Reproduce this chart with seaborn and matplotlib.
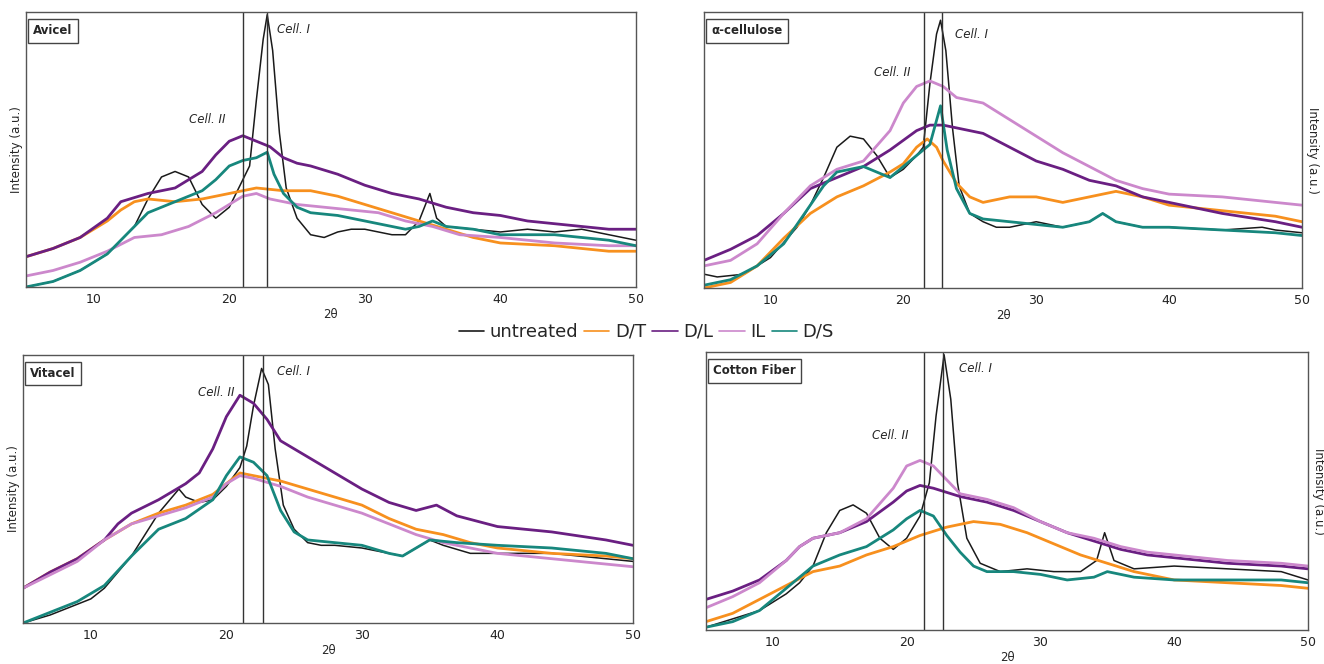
import pandas as pd
import numpy as np
import matplotlib
matplotlib.use('Agg')
import matplotlib.pyplot as plt
import seaborn as sns
from matplotlib.lines import Line2D

# 시료 이름 / 색
samples = ['untreated', 'D/T', 'D/L', 'IL', 'D/S']
colors = ['#1a1a1a', '#f7901e', '#6a1f82', '#cc88cc', '#17877d']

# ---- Avicel ----
avicel_untreated_x = [5, 7, 9, 10, 11, 12, 13, 14, 15, 16, 17, 18, 19, 20, 21, 21.5, 22, 22.5, 22.8, 23.2,
                      23.7, 24.2, 25, 26, 27, 28, 29, 30, 31, 32, 33, 34, 34.8, 35.3, 36, 38, 40, 42, 44, 46, 48, 50]
avicel_untreated_y = [0.00, 0.02, 0.06, 0.09, 0.12, 0.17, 0.22, 0.32, 0.40, 0.42, 0.40, 0.30, 0.25, 0.29, 0.39, 0.44, 0.68, 0.90, 0.99, 0.86,
                      0.56, 0.36, 0.25, 0.19, 0.18, 0.20, 0.21, 0.21, 0.20, 0.19, 0.19, 0.24, 0.34, 0.25, 0.22, 0.21, 0.20, 0.21, 0.20, 0.21, 0.19, 0.17]
avicel_dt_x = [5, 7, 9, 11, 12, 13, 14, 16, 18, 20, 22, 24, 26, 28, 30, 32, 34, 36, 38, 40, 44, 48, 50]
avicel_dt_y = [0.11, 0.14, 0.18, 0.24, 0.28, 0.31, 0.32, 0.31, 0.32, 0.34, 0.36, 0.35, 0.35, 0.33, 0.30, 0.27, 0.24, 0.21, 0.18, 0.16, 0.15, 0.13, 0.13]
avicel_dl_x = [5, 7, 9, 11, 12, 14, 16, 18, 19, 20, 21, 22, 23, 24, 25, 26, 28, 30, 32, 34, 36, 38, 40, 42, 44, 46, 48, 50]
avicel_dl_y = [0.11, 0.14, 0.18, 0.25, 0.31, 0.34, 0.36, 0.42, 0.48, 0.53, 0.55, 0.53, 0.51, 0.47, 0.45, 0.44, 0.41, 0.37, 0.34, 0.32, 0.29, 0.27, 0.26, 0.24, 0.23, 0.22, 0.21, 0.21]
avicel_il_x = [5, 7, 9, 11, 13, 15, 17, 19, 20, 21, 22, 23, 25, 27, 29, 31, 33, 35, 37, 40, 44, 48, 50]
avicel_il_y = [0.04, 0.06, 0.09, 0.13, 0.18, 0.19, 0.22, 0.27, 0.30, 0.33, 0.34, 0.32, 0.30, 0.29, 0.28, 0.27, 0.24, 0.22, 0.19, 0.18, 0.16, 0.15, 0.15]
avicel_ds_x = [5, 7, 9, 11, 12, 13, 14, 15, 16, 17, 18, 19, 20, 21, 22, 22.8, 23.3, 24, 25, 26, 28, 30, 32, 33, 34, 35, 36, 38, 40, 44, 48, 50]
avicel_ds_y = [0.00, 0.02, 0.06, 0.12, 0.17, 0.22, 0.27, 0.29, 0.31, 0.33, 0.35, 0.39, 0.44, 0.46, 0.47, 0.49, 0.41, 0.34, 0.29, 0.27,
               0.26, 0.24, 0.22, 0.21, 0.22, 0.24, 0.22, 0.21, 0.19, 0.19, 0.17, 0.15]

# ---- α-cellulose ----
acell_untreated_x = [5, 6, 8, 10, 12, 13, 14, 15, 16, 17, 18, 19, 20, 21, 21.5, 22, 22.5, 22.8, 23.2, 23.7,
                     24.2, 25, 26, 27, 28, 30, 32, 34, 35, 36, 38, 40, 44, 47, 48, 50]
acell_untreated_y = [0.05, 0.04, 0.05, 0.11, 0.22, 0.30, 0.40, 0.51, 0.55, 0.54, 0.48, 0.40, 0.43, 0.48, 0.51, 0.74, 0.92, 0.97, 0.86, 0.58,
                     0.37, 0.27, 0.24, 0.22, 0.22, 0.24, 0.22, 0.24, 0.27, 0.24, 0.22, 0.22, 0.21, 0.22, 0.21, 0.20]
acell_dt_x = [5, 7, 9, 11, 13, 15, 17, 19, 20, 21, 21.8, 22.5, 23, 24, 25, 26, 28, 30, 32, 34, 36, 38, 40, 44, 48, 50]
acell_dt_y = [0.00, 0.02, 0.08, 0.18, 0.27, 0.33, 0.37, 0.42, 0.45, 0.51, 0.54, 0.51, 0.46, 0.38, 0.33, 0.31, 0.33, 0.33, 0.31, 0.33, 0.35, 0.33, 0.30, 0.28, 0.26, 0.24]
acell_dl_x = [5, 7, 9, 11, 13, 15, 17, 19, 21, 22, 23, 24, 26, 28, 30, 32, 34, 36, 38, 40, 44, 48, 50]
acell_dl_y = [0.10, 0.14, 0.19, 0.27, 0.36, 0.40, 0.44, 0.50, 0.57, 0.59, 0.59, 0.58, 0.56, 0.51, 0.46, 0.43, 0.39, 0.37, 0.33, 0.31, 0.27, 0.24, 0.22]
acell_il_x = [5, 7, 9, 11, 13, 15, 17, 19, 20, 21, 22, 23, 24, 26, 28, 30, 32, 34, 36, 38, 40, 44, 48, 50]
acell_il_y = [0.08, 0.10, 0.16, 0.27, 0.37, 0.43, 0.46, 0.57, 0.67, 0.73, 0.75, 0.73, 0.69, 0.67, 0.61, 0.55, 0.49, 0.44, 0.39, 0.36, 0.34, 0.33, 0.31, 0.30]
acell_ds_x = [5, 7, 9, 11, 13, 14, 15, 16, 17, 18, 19, 20, 21, 22, 22.8, 23.3, 24, 25, 26, 28, 30, 32, 34, 35, 36, 38, 40, 44, 48, 50]
acell_ds_y = [0.01, 0.03, 0.08, 0.16, 0.30, 0.37, 0.42, 0.43, 0.44, 0.42, 0.40, 0.44, 0.48, 0.52, 0.66, 0.50, 0.36, 0.27, 0.25, 0.24,
              0.23, 0.22, 0.24, 0.27, 0.24, 0.22, 0.22, 0.21, 0.20, 0.19]

# ---- Vitacel ----
vita_untreated_x = [5, 7, 9, 10, 11, 12, 13, 14, 15, 16, 16.5, 17, 18, 19, 20, 21, 21.5, 22, 22.6, 23.1,
                    23.6, 24.2, 25, 26, 27, 28, 30, 32, 33, 34, 35, 36, 38, 40, 44, 48, 50]
vita_untreated_y = [0.00, 0.03, 0.07, 0.09, 0.13, 0.19, 0.25, 0.33, 0.41, 0.47, 0.50, 0.47, 0.45, 0.46, 0.51, 0.58, 0.66, 0.81, 0.95, 0.89,
                    0.65, 0.44, 0.35, 0.30, 0.29, 0.29, 0.28, 0.26, 0.25, 0.28, 0.31, 0.29, 0.26, 0.26, 0.26, 0.24, 0.23]
vita_dt_x = [5, 7, 9, 11, 13, 15, 17, 19, 20, 21, 22, 24, 26, 28, 30, 32, 34, 36, 38, 40, 44, 48, 50]
vita_dt_y = [0.13, 0.19, 0.24, 0.31, 0.37, 0.41, 0.44, 0.48, 0.52, 0.56, 0.55, 0.53, 0.50, 0.47, 0.44, 0.39, 0.35, 0.33, 0.30, 0.28, 0.26, 0.25, 0.24]
vita_dl_x = [5, 7, 9, 11, 12, 13, 15, 17, 18, 19, 20, 21, 22, 23, 24, 26, 28, 30, 32, 34, 35.5, 37, 40, 44, 48, 50]
vita_dl_y = [0.13, 0.19, 0.24, 0.31, 0.37, 0.41, 0.46, 0.52, 0.56, 0.65, 0.77, 0.85, 0.82, 0.76, 0.68, 0.62, 0.56, 0.50, 0.45, 0.42, 0.44, 0.40, 0.36, 0.34, 0.31, 0.29]
vita_il_x = [5, 7, 9, 11, 13, 15, 17, 19, 20, 21, 22, 24, 26, 28, 30, 32, 34, 36, 38, 40, 44, 48, 50]
vita_il_y = [0.13, 0.18, 0.23, 0.31, 0.37, 0.40, 0.43, 0.47, 0.52, 0.55, 0.54, 0.51, 0.47, 0.44, 0.41, 0.37, 0.33, 0.30, 0.28, 0.26, 0.24, 0.22, 0.21]
vita_ds_x = [5, 7, 9, 11, 13, 15, 17, 19, 20, 21, 22, 23, 24, 25, 26, 28, 30, 32, 33, 35, 37, 40, 44, 48, 50]
vita_ds_y = [0.00, 0.04, 0.08, 0.14, 0.25, 0.35, 0.39, 0.46, 0.55, 0.62, 0.60, 0.55, 0.42, 0.34, 0.31, 0.30, 0.29, 0.26, 0.25, 0.31, 0.30, 0.29, 0.28, 0.26, 0.24]

# ---- Cotton Fiber ----
cotton_untreated_x = [5, 7, 9, 11, 12, 13, 14, 15, 16, 17, 18, 19, 20, 21, 21.7, 22.2, 22.8, 23.3, 23.8, 24.5,
                      25.5, 27, 29, 31, 33, 34.2, 34.8, 35.5, 37, 40, 44, 48, 50]
cotton_untreated_y = [0.01, 0.04, 0.07, 0.13, 0.17, 0.23, 0.35, 0.43, 0.45, 0.42, 0.33, 0.29, 0.33, 0.41, 0.53, 0.77, 0.99, 0.83, 0.53, 0.33,
                      0.24, 0.21, 0.22, 0.21, 0.21, 0.25, 0.35, 0.25, 0.22, 0.23, 0.22, 0.21, 0.18]
cotton_dt_x = [5, 7, 9, 11, 13, 15, 17, 19, 21, 23, 25, 27, 29, 31, 33, 35, 37, 40, 44, 48, 50]
cotton_dt_y = [0.03, 0.06, 0.11, 0.16, 0.21, 0.23, 0.27, 0.30, 0.34, 0.37, 0.39, 0.38, 0.35, 0.31, 0.27, 0.24, 0.21, 0.18, 0.17, 0.16, 0.15]
cotton_dl_x = [5, 7, 9, 11, 12, 13, 15, 17, 19, 20, 21, 22, 24, 26, 28, 30, 32, 34, 36, 38, 40, 44, 48, 50]
cotton_dl_y = [0.11, 0.14, 0.18, 0.25, 0.30, 0.33, 0.35, 0.39, 0.46, 0.50, 0.52, 0.51, 0.48, 0.46, 0.43, 0.39, 0.35, 0.32, 0.29, 0.27, 0.26, 0.24, 0.23, 0.22]
cotton_il_x = [5, 7, 9, 11, 12, 13, 15, 17, 19, 20, 21, 22, 23, 24, 26, 28, 30, 32, 34, 36, 38, 40, 44, 48, 50]
cotton_il_y = [0.08, 0.12, 0.17, 0.25, 0.30, 0.33, 0.35, 0.40, 0.51, 0.59, 0.61, 0.59, 0.54, 0.49, 0.47, 0.44, 0.39, 0.35, 0.33, 0.30, 0.28, 0.27, 0.25, 0.24, 0.23]
cotton_ds_x = [5, 7, 9, 11, 13, 15, 17, 19, 20, 21, 22, 23, 24, 25, 26, 28, 30, 32, 34, 35, 37, 40, 44, 48, 50]
cotton_ds_y = [0.01, 0.03, 0.07, 0.15, 0.23, 0.27, 0.30, 0.36, 0.40, 0.43, 0.41, 0.34, 0.28, 0.23, 0.21, 0.21, 0.20, 0.18, 0.19, 0.21, 0.19, 0.18, 0.18, 0.18, 0.17]

# 패널 정보: 이름, 시리즈, Cell. II / Cell. I 선 위치
panel_names = ['Avicel', 'α-cellulose', 'Vitacel', 'Cotton Fiber']
cell2_pos = [21.0, 21.55, 21.2, 21.3]
cell1_pos = [22.8, 22.9, 22.7, 22.7]

panel_series = [
    [(avicel_untreated_x, avicel_untreated_y), (avicel_dt_x, avicel_dt_y), (avicel_dl_x, avicel_dl_y),
     (avicel_il_x, avicel_il_y), (avicel_ds_x, avicel_ds_y)],
    [(acell_untreated_x, acell_untreated_y), (acell_dt_x, acell_dt_y), (acell_dl_x, acell_dl_y),
     (acell_il_x, acell_il_y), (acell_ds_x, acell_ds_y)],
    [(vita_untreated_x, vita_untreated_y), (vita_dt_x, vita_dt_y), (vita_dl_x, vita_dl_y),
     (vita_il_x, vita_il_y), (vita_ds_x, vita_ds_y)],
    [(cotton_untreated_x, cotton_untreated_y), (cotton_dt_x, cotton_dt_y), (cotton_dl_x, cotton_dl_y),
     (cotton_il_x, cotton_il_y), (cotton_ds_x, cotton_ds_y)],
]

# 주석 위치 (x, y axes fraction)
cell1_txt = [(23.5, 0.935), (23.9, 0.92), (23.7, 0.94), (23.9, 0.94)]
cell2_txt = [(17.0, 0.61), (17.8, 0.78), (17.9, 0.86), (17.4, 0.70)]

# 축 위치 (figure fraction)
axes_rects = [
    [0.0196, 0.5678, 0.4607, 0.4142],
    [0.5317, 0.5663, 0.4517, 0.4157],
    [0.0174, 0.0617, 0.4607, 0.4036],
    [0.5332, 0.0512, 0.4547, 0.4187],
]

sns.set_style('white')
plt.rcParams['font.family'] = ['DejaVu Sans']

fig = plt.figure(figsize=(13.24, 6.64), dpi=100)

for i in range(4):
    ax = fig.add_axes(axes_rects[i])
    for (xs, ys), name, c in zip(panel_series[i], samples, colors):
        df = pd.DataFrame({'two_theta': xs, 'intensity': ys})
        lw = 1.1 if name == 'untreated' else 2.0
        sns.lineplot(data=df, x='two_theta', y='intensity', color=c, linewidth=lw,
                     estimator=None, sort=False, ax=ax)

    ax.axvline(cell2_pos[i], color='#333333', linewidth=1.0)
    ax.axvline(cell1_pos[i], color='#333333', linewidth=1.0)

    ax.set_xlim(5, 50)
    ax.set_ylim(0, 1.0)
    ax.set_xticks([10, 20, 30, 40, 50])
    ax.set_yticks([])
    ax.tick_params(axis='x', labelsize=9, length=0, pad=4, labelcolor='#222222')
    for s in ax.spines.values():
        s.set_color('#555555')
        s.set_linewidth(1.0)

    ax.set_xlabel('2θ', fontsize=8.5, labelpad=2)
    ax.set_ylabel('Intensity (a.u.)', fontsize=8.5, labelpad=2)
    if i % 2 == 1:
        ax.yaxis.set_label_position('right')
        ax.set_ylabel('Intensity (a.u.)', fontsize=8.5, rotation=270, labelpad=12)

    ax.text(0.012, 0.955, panel_names[i], transform=ax.transAxes, fontsize=8.5, fontweight='bold',
            ha='left', va='top',
            bbox=dict(boxstyle='square,pad=0.45', facecolor='white', edgecolor='#444444', linewidth=1.0))

    ax.text(cell1_txt[i][0], cell1_txt[i][1], 'Cell. I', fontsize=8.5, style='italic',
            ha='left', va='center', transform=ax.get_xaxis_transform())
    ax.text(cell2_txt[i][0], cell2_txt[i][1], 'Cell. II', fontsize=8.5, style='italic',
            ha='left', va='center', transform=ax.get_xaxis_transform())

# 범례
handles = [Line2D([0], [0], color=c, linewidth=1.2) for c in colors]
fig.legend(handles, samples, loc='center', bbox_to_anchor=(0.488, 0.5), ncol=5, frameon=False,
           fontsize=13, handlelength=1.4, handletextpad=0.3, columnspacing=0.35)

fig.savefig('out.png', dpi=100)
